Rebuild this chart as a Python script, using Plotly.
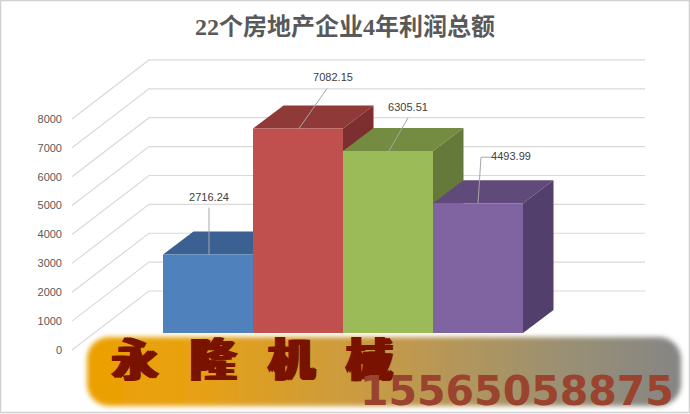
import base64
import plotly.graph_objects as go

# data
values = [2716.24, 7082.15, 6305.51, 4493.99]
value_labels = ['2716.24', '7082.15', '6305.51', '4493.99']
y_ticks = [0, 1000, 2000, 3000, 4000, 5000, 6000, 7000, 8000]
title_text = '22个房地产企业4年利润总额'
logo_text = '永\u2002\u2009隆\u2002\u2009机\u2002\u2009械'
phone_text = '15565058875'

# colors: front, top, side
front_colors = ['#4f81bd', '#c0504d', '#9bbb59', '#8064a2']
top_colors = ['#3a6191', '#8f3a39', '#748c42', '#5f4a79']
side_colors = ['#33557f', '#7c2f2e', '#64793a', '#533f6c']

W, H = 690, 414
bar_px = 90.0      # one category wide
val_px = 0.02888   # pixels per unit of value
x0_px = 208.0      # center of first bar
y0_px = 350.0      # value 0 on the front edge of the floor


# pixel distances to axis units
def ux(px):
    return px / bar_px


def uy(px):
    return px / val_px


# floor/wall geometry in px offsets from the front corner
wall_dx, wall_dy = 77, 59
wall_left = ux(72 - x0_px)
wall_right = ux(645 - x0_px)
floor = uy(17)         # bars stand this far back on the floor
depth_x, depth_y = ux(30.5), uy(23)

# label and leader offsets from top center of the bar (px)
label_dx = [1, 35, 20, 33]
label_dy = [56, 50, 43, 46]
leader_dx = [[1, 1], [1, 29], [1, 20], [0, 3, 13]]
leader_dy = [[0, 47], [0, 40], [0, 33], [0, 46, 46]]

fig = go.Figure()

# wall and floor grid
for t in y_ticks:
    fig.add_trace(go.Scatter(
        x=[wall_left, wall_left + ux(wall_dx), wall_right],
        y=[t, t + uy(wall_dy), t + uy(wall_dy)],
        mode='lines', line=dict(color='#d9d9d9', width=1.2),
        hoverinfo='skip', showlegend=False, zorder=0))

# bars, painted left to right
for i, v in enumerate(values):
    z = 1 + i * 3
    left, right = i - 0.5, i + 0.5
    top = floor + v
    fig.add_trace(go.Scatter(
        x=[left, right, right + depth_x, left + depth_x, left],
        y=[top, top, top + depth_y, top + depth_y, top],
        mode='lines', fill='toself', fillcolor=top_colors[i], line=dict(width=0),
        hoverinfo='skip', showlegend=False, zorder=z))
    fig.add_trace(go.Scatter(
        x=[right, right + depth_x, right + depth_x, right, right],
        y=[top, top + depth_y, floor + depth_y, floor, top],
        mode='lines', fill='toself', fillcolor=side_colors[i], line=dict(width=0),
        hoverinfo='skip', showlegend=False, zorder=z + 1))
    fig.add_trace(go.Bar(
        x=[i], y=[v], base=[floor], width=1, marker=dict(color=front_colors[i], line=dict(width=0)),
        hoverinfo='skip', showlegend=False, zorder=z + 2))

# leader lines and value labels
for i, v in enumerate(values):
    top = floor + v
    fig.add_trace(go.Scatter(
        x=[i + ux(d) for d in leader_dx[i]], y=[top + uy(d) for d in leader_dy[i]],
        mode='lines', line=dict(color='#a6a6a6', width=1),
        hoverinfo='skip', showlegend=False, zorder=50))
    fig.add_trace(go.Scatter(
        x=[i + ux(label_dx[i])], y=[top + uy(label_dy[i])], mode='text',
        text=[value_labels[i]], textposition='middle center',
        textfont=dict(family='Liberation Sans', size=11, color='#404040'),
        hoverinfo='skip', showlegend=False, zorder=51))

# soft edged gradient plate behind the logo
svg = '''<svg xmlns="http://www.w3.org/2000/svg" width="610" height="85" viewBox="0 0 610 85">
<defs><linearGradient id="g" x1="0" x2="1" y1="0" y2="0">
<stop offset="0" stop-color="#eba000"/><stop offset="0.17" stop-color="#e8a112"/>
<stop offset="0.5" stop-color="#c59a48"/><stop offset="0.8" stop-color="#9a9073"/>
<stop offset="1" stop-color="#858585"/></linearGradient>
<filter id="b" x="-5%" y="-20%" width="110%" height="140%"><feGaussianBlur stdDeviation="2.8"/></filter></defs>
<rect x="8" y="8" width="594" height="69" rx="22" ry="22" fill="url(#g)" filter="url(#b)"/></svg>'''
plate = 'data:image/svg+xml;base64,' + base64.b64encode(svg.encode()).decode()
fig.add_layout_image(dict(
    source=plate, xref='paper', yref='paper', x=79 / W, y=1 - 329 / H,
    sizex=610 / W, sizey=85 / H, xanchor='left', yanchor='top', layer='above', sizing='stretch'))

fig.add_annotation(
    text=logo_text, xref='paper', yref='paper', x=253 / W, y=1 - 356 / H, showarrow=False,
    xanchor='center', yanchor='middle',
    font=dict(family='Noto Sans CJK SC', size=46, color='#7a1200', weight='bold',
              shadow='2.5px 0 0 #7a1200, -2.5px 0 0 #7a1200'))
fig.add_annotation(
    text=phone_text, xref='paper', yref='paper', x=517 / W, y=1 - 391 / H, showarrow=False,
    xanchor='center', yanchor='middle',
    font=dict(family='DejaVu Sans', size=41, color='#9a4430', weight='bold'))
fig.add_annotation(
    text=f'<b>{title_text}</b>', xref='paper', yref='paper', x=345 / W, y=1 - 27 / H, showarrow=False,
    xanchor='center', yanchor='middle',
    font=dict(family='Liberation Serif, Noto Sans CJK SC', size=24, color='#595959'))

# thin image frame
fig.add_shape(type='rect', xref='paper', yref='paper', x0=0.5 / W, x1=689.5 / W,
              y0=1 - 412.5 / H, y1=1 - 0.5 / H, line=dict(color='#d0d0d0', width=1.5), layer='above')

fig.update_layout(
    width=W, height=H, margin=dict(l=0, r=0, t=0, b=0),
    autosize=False, barmode='overlay', showlegend=False,
    plot_bgcolor='white', paper_bgcolor='white',
    xaxis=dict(range=[ux(-x0_px), ux(W - x0_px)], visible=False, fixedrange=True),
    yaxis=dict(range=[uy(y0_px - H), uy(y0_px)], tickvals=y_ticks, ticktext=[str(t) for t in y_ticks],
               anchor='free', position=72 / W, showgrid=False, zeroline=False, showline=False,
               ticks='', ticklabelstandoff=10, fixedrange=True,
               tickfont=dict(family='Liberation Sans', size=11, color='#595959')),
)

# drop the browser's default page margin so the chart sits at 0,0
fig.write_html('out.html', config=dict(displayModeBar=False),
               post_script="document.body.style.margin='0';")
